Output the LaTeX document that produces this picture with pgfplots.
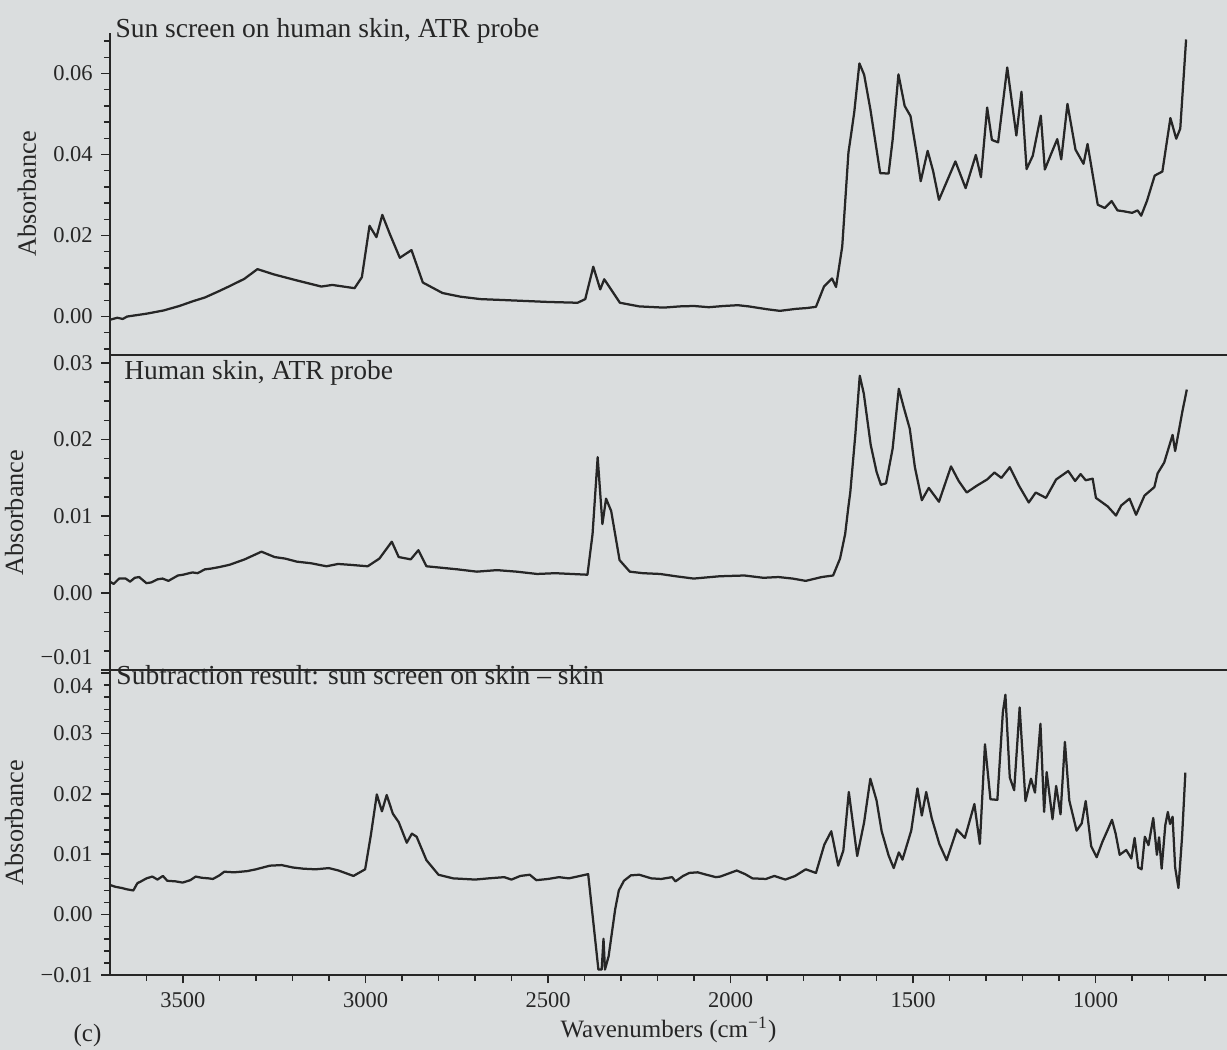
\documentclass[border=0pt]{standalone}
\usepackage{fontspec}
\setmainfont{Liberation Serif}
\usepackage{pgfplots}
\pgfplotsset{compat=1.18}
\definecolor{ink}{RGB}{38,38,38}
\definecolor{paper}{RGB}{218,221,222}
\pgfplotsset{
  spec/.style={
    scale only axis, width=446.8pt, x dir=reverse, xmin=640, xmax=3700,
    axis y line*=left, tick pos=left,
    axis line style={-, draw=ink, line width=0.8pt},
    scaled y ticks=false, scaled x ticks=false,
    tick align=outside, major tick length=3.4pt, minor tick length=2.4pt,
    every tick/.style={draw=ink, line width=0.7pt},
    every minor tick/.style={draw=ink, line width=0.6pt},
    ticklabel style={font=\fontsize{9}{10}\selectfont, text=ink},
    ylabel={Absorbance},
    ylabel style={font=\fontsize{10.5}{12}\selectfont, text=ink},
    clip=false,
  },
  curve/.style={draw=ink, line width=0.9pt, line join=round, mark=none},
}
\begin{document}
\begin{tikzpicture}
\fill[paper] (-44pt,-406.8pt) rectangle (446.8pt,13.2pt);
\useasboundingbox (-44pt,-406.8pt) rectangle (446.8pt,13.2pt);
% ---------------- panel 1
\begin{axis}[spec, name=p1, at={(0pt,0pt)}, anchor=north west, height=128.8pt,
  axis x line*=none, xtick=\empty,
  ymin=-0.0095, ymax=0.07,
  ytick={0,0.02,0.04,0.06}, yticklabels={0.00,0.02,0.04,0.06},
  minor ytick={-0.008,-0.004,...,0.069}]
\addplot[curve] coordinates {
(3700,-0.0008) (3680,-0.0003) (3665,-0.0006) (3653,0.0000) (3600,0.0007) (3553,0.0015)
(3510,0.0026) (3472,0.0038) (3440,0.0047) (3403,0.0062) (3370,0.0076) (3332,0.0093)
(3296,0.0117) (3251,0.0104) (3192,0.0090) (3121,0.0074) (3091,0.0078) (3030,0.0070)
(3010,0.0097) (2989,0.0224) (2970,0.0196) (2954,0.0251) (2933,0.0203) (2906,0.0145)
(2874,0.0164) (2843,0.0084) (2789,0.0058) (2740,0.0049) (2685,0.0043) (2630,0.0041)
(2578,0.0039) (2500,0.0036) (2419,0.0034) (2398,0.0043) (2376,0.0123) (2357,0.0067)
(2346,0.0092) (2303,0.0034) (2250,0.0025) (2183,0.0022) (2140,0.0025) (2100,0.0026)
(2060,0.0023) (2019,0.0026) (1980,0.0028) (1950,0.0025) (1900,0.0018) (1865,0.0014)
(1820,0.0019) (1790,0.0021) (1766,0.0024) (1744,0.0074) (1722,0.0094) (1711,0.0073)
(1694,0.0173) (1677,0.0405) (1670,0.0448) (1661,0.0505) (1647,0.0625) (1634,0.0597)
(1617,0.0512) (1590,0.0354) (1567,0.0353) (1556,0.0436) (1540,0.0598) (1523,0.0520)
(1507,0.0495) (1490,0.0402) (1479,0.0334) (1460,0.0409) (1445,0.0359) (1429,0.0288)
(1384,0.0383) (1356,0.0317) (1328,0.0399) (1314,0.0344) (1297,0.0516) (1284,0.0436)
(1267,0.0430) (1242,0.0615) (1217,0.0447) (1203,0.0555) (1189,0.0364) (1172,0.0397)
(1150,0.0496) (1139,0.0363) (1122,0.0401) (1105,0.0438) (1094,0.0388) (1077,0.0525)
(1055,0.0412) (1033,0.0377) (1022,0.0426) (994,0.0276) (975,0.0268) (956,0.0285)
(940,0.0262) (924,0.0260) (900,0.0256) (885,0.0262) (875,0.0249) (859,0.0286)
(838,0.0348) (817,0.0358) (795,0.0490) (779,0.0439) (768,0.0464) (752,0.0684)
};
\end{axis}
\node[anchor=base west, font=\fontsize{11}{13}\selectfont, text=ink, inner sep=0pt]
  at ([xshift=2pt,yshift=-2pt]p1.north west) {Sun screen on human skin, ATR probe};
% ---------------- panel 2
\begin{axis}[spec, name=p2, at={(0pt,-128.8pt)}, anchor=north west, height=126pt,
  axis x line*=none, xtick=\empty,
  ymin=-0.01, ymax=0.031,
  ytick={-0.01,0,0.01,0.02,0.03},
  yticklabels={\raisebox{2pt}[0pt][0pt]{−0.01},0.00,0.01,0.02,0.03},
  minor ytick={-0.0075,-0.005,...,0.0301}]
\addplot[curve] coordinates {
(3700,0.0015) (3690,0.0012) (3675,0.0019) (3657,0.0019) (3645,0.0015) (3632,0.0020)
(3620,0.0021) (3600,0.0013) (3587,0.0014) (3570,0.0018) (3556,0.0019) (3540,0.0016)
(3514,0.0023) (3500,0.0024) (3474,0.0027) (3460,0.0026) (3440,0.0031) (3423,0.0032)
(3400,0.0034) (3372,0.0037) (3331,0.0044) (3285,0.0054) (3249,0.0047) (3220,0.0045)
(3188,0.0041) (3150,0.0039) (3107,0.0035) (3075,0.0038) (3045,0.0037) (2994,0.0035)
(2962,0.0045) (2928,0.0067) (2909,0.0047) (2876,0.0044) (2855,0.0056) (2833,0.0035)
(2790,0.0033) (2748,0.0031) (2695,0.0028) (2640,0.0030) (2586,0.0028) (2530,0.0025)
(2480,0.0026) (2392,0.0024) (2378,0.0077) (2364,0.0177) (2351,0.0090) (2341,0.0123)
(2327,0.0107) (2304,0.0043) (2276,0.0028) (2240,0.0026) (2193,0.0025) (2150,0.0022)
(2101,0.0019) (2030,0.0022) (1962,0.0023) (1910,0.0020) (1869,0.0021) (1830,0.0019)
(1794,0.0016) (1750,0.0021) (1719,0.0023) (1700,0.0045) (1686,0.0077) (1677,0.0113)
(1672,0.0131) (1658,0.0207) (1646,0.0283) (1635,0.0260) (1616,0.0193) (1600,0.0158)
(1588,0.0141) (1574,0.0143) (1556,0.0188) (1539,0.0266) (1525,0.0241) (1509,0.0214)
(1495,0.0164) (1476,0.0121) (1457,0.0137) (1429,0.0119) (1396,0.0165) (1375,0.0146)
(1353,0.0131) (1325,0.0140) (1297,0.0148) (1277,0.0157) (1258,0.0150) (1235,0.0164)
(1210,0.0140) (1183,0.0118) (1164,0.0131) (1136,0.0124) (1108,0.0148) (1075,0.0159)
(1056,0.0146) (1041,0.0155) (1027,0.0147) (1008,0.0149) (999,0.0124) (967,0.0113)
(944,0.0101) (930,0.0114) (907,0.0123) (889,0.0102) (866,0.0127) (839,0.0138)
(830,0.0156) (812,0.0170) (789,0.0206) (782,0.0185) (762,0.0237) (750,0.0265)
};
\end{axis}
\draw[ink, line width=0.8pt] (p2.north west) -- (p2.north east);
\node[anchor=base west, font=\fontsize{11}{13}\selectfont, text=ink, inner sep=0pt]
  at ([xshift=5.5pt,yshift=-9.6pt]p2.north west) {Human skin, ATR probe};
% ---------------- panel 3
\begin{axis}[spec, name=p3, at={(0pt,-254.8pt)}, anchor=north west, height=122pt,
  axis x line*=bottom,
  xtick={1000,1500,2000,2500,3000,3500}, xticklabels={1000,1500,2000,2500,3000,3500},
  minor xtick={700,800,...,3600},
  xlabel={Wavenumbers (cm\textsuperscript{−1})},
  xlabel style={font=\fontsize{10}{12}\selectfont, text=ink, yshift=3pt},
  ymin=-0.01, ymax=0.0405,
  ytick={-0.01,0,0.01,0.02,0.03,0.04},
  yticklabels={−0.01,0.00,0.01,0.02,0.03,\raisebox{-8pt}[0pt][0pt]{0.04}},
  minor ytick={-0.008,-0.006,...,0.039}]
\addplot[curve] coordinates {
(3700,0.0049) (3685,0.0046) (3667,0.0044) (3655,0.0042) (3636,0.0040) (3625,0.0052)
(3615,0.0055) (3600,0.0060) (3584,0.0063) (3570,0.0058) (3555,0.0064) (3543,0.0056)
(3520,0.0055) (3501,0.0053) (3480,0.0057) (3465,0.0063) (3449,0.0061) (3430,0.0060)
(3418,0.0059) (3400,0.0065) (3387,0.0071) (3360,0.0070) (3324,0.0072) (3300,0.0075)
(3262,0.0081) (3230,0.0082) (3199,0.0078) (3170,0.0076) (3137,0.0075) (3100,0.0077)
(3074,0.0073) (3033,0.0064) (3001,0.0075) (2985,0.0133) (2969,0.0199) (2955,0.0171)
(2942,0.0198) (2925,0.0167) (2909,0.0153) (2887,0.0119) (2873,0.0134) (2860,0.0129)
(2833,0.0090) (2800,0.0066) (2760,0.0060) (2729,0.0059) (2700,0.0058) (2663,0.0060)
(2620,0.0062) (2600,0.0058) (2576,0.0064) (2550,0.0066) (2532,0.0057) (2500,0.0059)
(2470,0.0062) (2443,0.0060) (2420,0.0063) (2390,0.0067) (2362,-0.0091) (2353,-0.0091)
(2348,-0.0040) (2344,-0.0091) (2334,-0.0069) (2316,0.0009) (2306,0.0040) (2292,0.0056)
(2273,0.0065) (2250,0.0066) (2217,0.0060) (2190,0.0059) (2160,0.0062) (2151,0.0055)
(2130,0.0064) (2113,0.0069) (2090,0.0070) (2066,0.0066) (2040,0.0062) (2028,0.0063)
(1983,0.0073) (1960,0.0067) (1940,0.0060) (1903,0.0059) (1880,0.0064) (1850,0.0058)
(1823,0.0064) (1794,0.0075) (1766,0.0069) (1743,0.0116) (1724,0.0138) (1705,0.0081)
(1691,0.0106) (1676,0.0203) (1653,0.0097) (1634,0.0153) (1617,0.0225) (1600,0.0189)
(1586,0.0138) (1567,0.0098) (1553,0.0077) (1539,0.0103) (1529,0.0091) (1505,0.0139)
(1488,0.0209) (1476,0.0164) (1464,0.0203) (1449,0.0160) (1428,0.0117) (1408,0.0090)
(1380,0.0141) (1358,0.0127) (1332,0.0183) (1317,0.0117) (1303,0.0282) (1288,0.0191)
(1269,0.0190) (1254,0.0335) (1247,0.0364) (1235,0.0227) (1223,0.0206) (1208,0.0343)
(1192,0.0188) (1177,0.0225) (1166,0.0202) (1151,0.0316) (1141,0.0170) (1134,0.0236)
(1118,0.0158) (1108,0.0213) (1096,0.0166) (1084,0.0286) (1072,0.0189) (1052,0.0139)
(1038,0.0151) (1027,0.0188) (1012,0.0113) (997,0.0095) (981,0.0121) (967,0.0140)
(955,0.0157) (945,0.0134) (934,0.0099) (916,0.0107) (902,0.0093) (893,0.0127)
(883,0.0078) (874,0.0075) (865,0.0129) (855,0.0115) (842,0.0160) (832,0.0099)
(826,0.0128) (819,0.0076) (809,0.0148) (802,0.0170) (796,0.0150) (789,0.0162)
(782,0.0078) (773,0.0044) (763,0.0129) (754,0.0235)
};
\end{axis}
\draw[ink, line width=0.8pt] (p3.north west) -- (p3.north east);
\node[anchor=base west, font=\fontsize{11}{13}\selectfont, text=ink, inner sep=0pt]
  at ([xshift=2.4pt,yshift=-5.6pt]p3.north west) {Subtraction result: sun screen on skin – skin};
\node[font=\fontsize{10}{12}\selectfont, text=ink] at ([xshift=-9pt,yshift=-24pt]p3.south west) {(c)};
\end{tikzpicture}
\end{document}
